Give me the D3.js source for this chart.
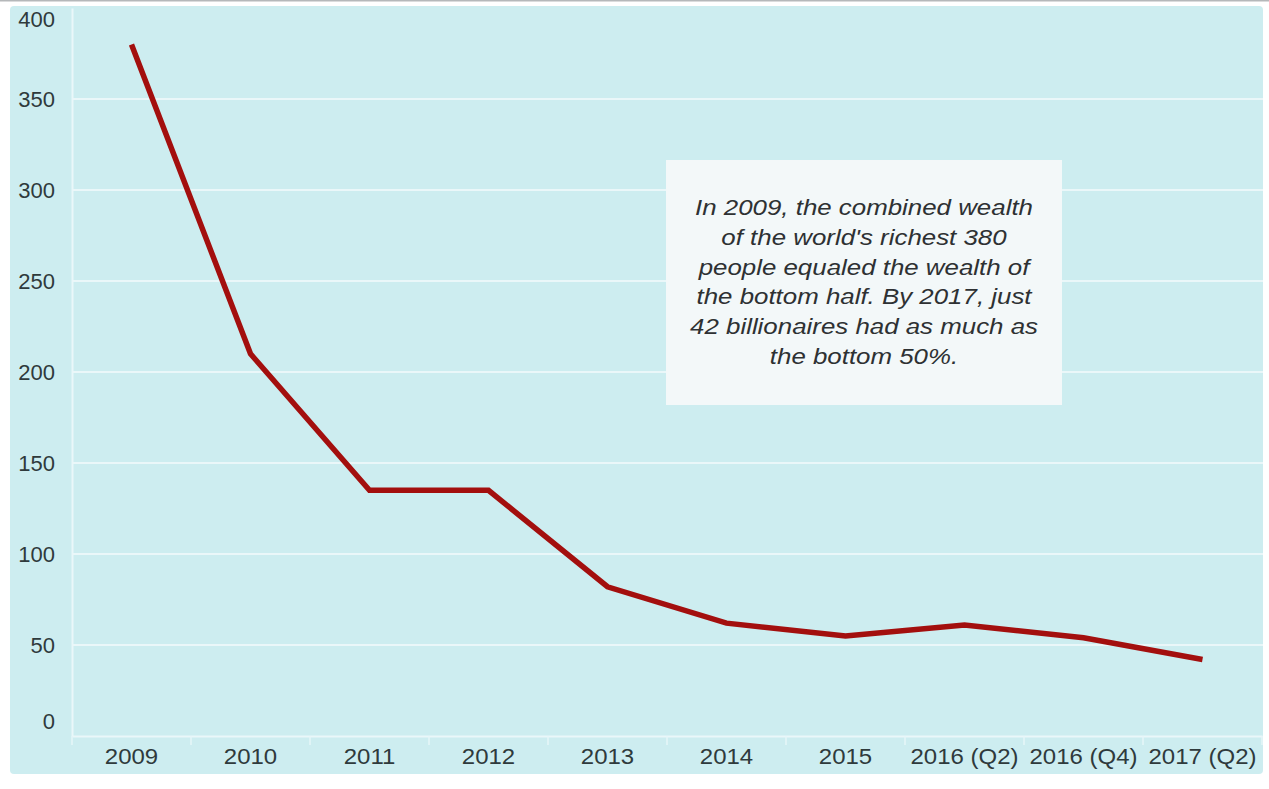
<!DOCTYPE html>
<html>
<head>
<meta charset="utf-8">
<script src="https://cdn.jsdelivr.net/npm/d3@7"></script>
<style>
  html, body { margin: 0; padding: 0; background: #ffffff; }
  svg { display: block; }
  text { font-family: "Liberation Sans", Arial, Helvetica, sans-serif; }
</style>
</head>
<body>
<svg id="chart" width="1269" height="789"></svg>
<script>
// Number of richest people whose combined wealth equals that of the poorest half
const categories = ["2009", "2010", "2011", "2012", "2013", "2014", "2015", "2016 (Q2)", "2016 (Q4)", "2017 (Q2)"];
const billionaires = [380, 210, 135, 135, 82, 62, 55, 61, 54, 42];
const yTicks = [0, 50, 100, 150, 200, 250, 300, 350, 400];
const noteLines = [
  "In 2009, the combined wealth",
  "of the world's richest 380",
  "people equaled the wealth of",
  "the bottom half. By 2017, just",
  "42 billionaires had as much as",
  "the bottom 50%."
];

const svg = d3.select("#chart");
const W = 1269, H = 789;
const plot = { left: 72, right: 1262, top: 8, bottom: 736 };

// thin grey rule along the very top
svg.append("rect").attr("x", 0).attr("y", 0).attr("width", W).attr("height", 1.5).attr("fill", "#b5b8ba");

// panel background
svg.append("rect")
  .attr("x", 10).attr("y", 6).attr("width", 1253).attr("height", 768)
  .attr("rx", 4).attr("fill", "#cdedf0");

const x = d3.scaleBand().domain(categories).range([plot.left, plot.right]).paddingInner(0).paddingOuter(0);
const y = d3.scaleLinear().domain([0, 400]).range([plot.bottom, plot.top]);

// horizontal gridlines
svg.append("g")
  .selectAll("line")
  .data(yTicks.filter(d => d > 0 && d < 400))
  .join("line")
  .attr("x1", plot.left).attr("x2", plot.right + 1)
  .attr("y1", d => y(d)).attr("y2", d => y(d))
  .attr("stroke", "#eaf7f9").attr("stroke-width", 2);

// y axis
const yAxis = svg.append("g")
  .attr("transform", `translate(${plot.left},0)`)
  .call(d3.axisLeft(y).tickValues(yTicks).tickSize(0).tickPadding(17));
yAxis.select(".domain").attr("stroke", "#eaf7f9").attr("stroke-width", 2);
yAxis.selectAll(".tick text")
  .attr("font-size", 22)
  .attr("fill", "#2f3a3c")
  .attr("font-family", "Liberation Sans, Arial, sans-serif")
  .attr("dy", d => d === 0 ? "-0.32em" : d === 400 ? "0.86em" : "0.32em");

// x axis
const xAxis = svg.append("g")
  .attr("transform", `translate(0,${plot.bottom})`)
  .call(d3.axisBottom(x).tickSize(0).tickPadding(12));
xAxis.select(".domain").attr("stroke", "#eaf7f9").attr("stroke-width", 2);
xAxis.selectAll(".tick text")
  .attr("font-size", 22)
  .attr("fill", "#2f3a3c")
  .attr("font-family", "Liberation Sans, Arial, sans-serif")
  .attr("transform", "scale(1.09,1)");

// separators between categories under the axis
const bounds = categories.map(c => x(c)).concat([plot.right]);
svg.append("g")
  .selectAll("line")
  .data(bounds)
  .join("line")
  .attr("x1", d => d).attr("x2", d => d)
  .attr("y1", plot.bottom).attr("y2", plot.bottom + 9)
  .attr("stroke", "#e6f6f8").attr("stroke-width", 1.5);

// the series line
const line = d3.line()
  .x((d, i) => x(categories[i]) + x.bandwidth() / 2)
  .y(d => y(d));
svg.append("path")
  .datum(billionaires)
  .attr("d", line)
  .attr("fill", "none")
  .attr("stroke", "#a30f0e")
  .attr("stroke-width", 5.5)
  .attr("stroke-linejoin", "miter");

// annotation box
const note = svg.append("g");
note.append("rect")
  .attr("x", 666).attr("y", 160).attr("width", 396).attr("height", 245)
  .attr("fill", "#f3f8f9");
note.append("g")
  .attr("transform", "translate(864,0) scale(1.15,1)")
  .selectAll("text")
  .data(noteLines)
  .join("text")
  .attr("x", 0)
  .attr("y", (d, i) => 215 + i * 29.8)
  .attr("text-anchor", "middle")
  .attr("font-size", 22.5)
  .attr("font-style", "italic")
  .attr("fill", "#2e3133")
  .text(d => d);
</script>
</body>
</html>
